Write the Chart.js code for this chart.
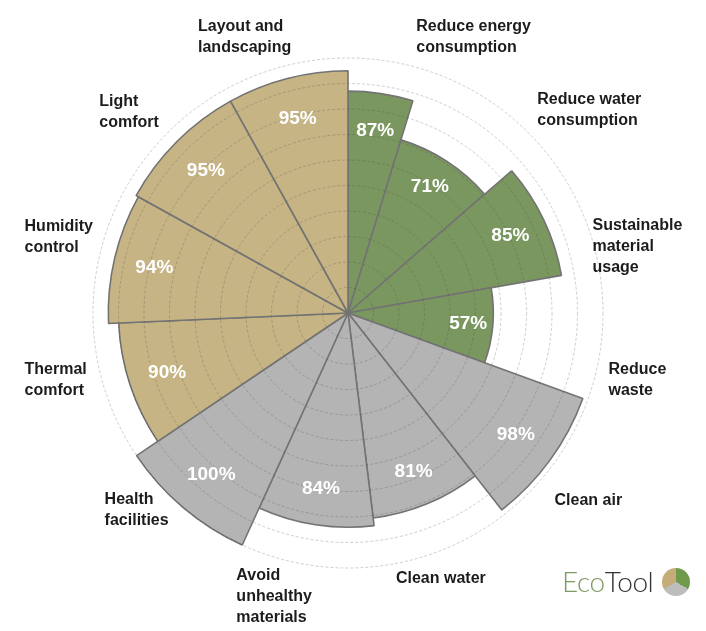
<!DOCTYPE html>
<html>
<head>
<meta charset="utf-8">
<script src="https://cdn.jsdelivr.net/npm/chart.js@4.4.1/dist/chart.umd.min.js"></script>
<style>
  html, body { margin: 0; padding: 0; background: #ffffff; }
  #wrap { position: relative; width: 706px; height: 631px; }
  #logo { position: absolute; left: 562px; top: 563px; height: 36px; display: flex; align-items: center;
          font-family: "Lato", "Liberation Sans", Arial, sans-serif; font-weight: 300; font-size: 28px; letter-spacing: -0.4px; }
  #logo .eco { color: #7d9a62; }
  #logo .tool { color: #333333; }
  #logo .icon { width: 28px; height: 28px; border-radius: 50%; margin-left: 9px; margin-top: 1px;
          background: conic-gradient(#6f9a4c 0deg 120deg, #bdbdbd 120deg 240deg, #c4ad78 240deg 360deg); }
</style>
</head>
<body>
<div id="wrap">
  <canvas id="c" width="706" height="631"></canvas>
  <div id="logo"><span class="eco">Eco</span><span class="tool">Tool</span><span class="icon"></span></div>
</div>
<script>
// ---- data ----
const categories = [
  ["Reduce energy", "consumption"],
  ["Reduce water", "consumption"],
  ["Sustainable", "material", "usage"],
  ["Reduce", "waste"],
  ["Clean air"],
  ["Clean water"],
  ["Avoid", "unhealthy", "materials"],
  ["Health", "facilities"],
  ["Thermal", "comfort"],
  ["Humidity", "control"],
  ["Light", "comfort"],
  ["Layout and", "landscaping"]
];
const values = [87, 71, 85, 57, 98, 81, 84, 100, 90, 94, 95, 95];
const groups = ["env", "env", "env", "env", "health", "health", "health", "health", "comfort", "comfort", "comfort", "comfort"];

// ---- style / layout ----
const groupColors = { env: "#7a975f", health: "#b4b4b4", comfort: "#c6b484" };
const sliceAngles = [17, 32, 31, 30, 32, 31, 31.5, 31.5, 31.5, 31.5, 32, 29]; // degrees
const labelAnchor = [ // [angle deg clockwise from top, distance px from centre]
  [24.5, 303], [50, 315], [77, 297], [103, 297], [128, 305], [160.7, 281],
  [194.6, 293], [227, 289], [257, 300], [284.7, 299], [312.5, 297], [339.5, 295]
];

const labelPlugin = {
  id: "labels",
  afterDraw(chart) {
    const ctx = chart.ctx;
    const meta = chart.getDatasetMeta(0);
    const scale = chart.scales.r;
    ctx.save();
    // values inside slices
    ctx.fillStyle = "#ffffff";
    ctx.font = "bold 19px 'Liberation Sans', Arial, Helvetica, sans-serif";
    ctx.textAlign = "center";
    ctx.textBaseline = "middle";
    meta.data.forEach((arc, i) => {
      const mid = (arc.startAngle + arc.endAngle) / 2;
      const r = arc.outerRadius * 0.83;
      ctx.fillText(values[i] + "%", arc.x + Math.cos(mid) * r, arc.y + Math.sin(mid) * r);
    });
    // category labels
    ctx.fillStyle = "#1c1c1c";
    ctx.font = "bold 16px 'Liberation Sans', Arial, Helvetica, sans-serif";
    ctx.textAlign = "left";
    ctx.textBaseline = "middle";
    const lh = 21;
    categories.forEach((lines, i) => {
      const a = (labelAnchor[i][0] - 90) * Math.PI / 180;
      const d = labelAnchor[i][1];
      const cx = scale.xCenter + Math.cos(a) * d;
      const cy = scale.yCenter + Math.sin(a) * d;
      const w = Math.max(...lines.map(l => ctx.measureText(l).width));
      const x0 = cx - w / 2;
      const y0 = cy - (lines.length - 1) * lh / 2;
      lines.forEach((l, k) => ctx.fillText(l, x0, y0 + k * lh));
    });
    ctx.restore();
  }
};

new Chart(document.getElementById("c"), {
  type: "polarArea",
  data: {
    labels: categories.map(l => l.join(" ")),
    datasets: [{
      data: values,
      angle: sliceAngles,
      backgroundColor: groups.map(g => groupColors[g]),
      borderColor: "#737373",
      borderWidth: 1.6
    }]
  },
  options: {
    responsive: false,
    animation: false,
    devicePixelRatio: 1,
    layout: { padding: { top: 58, bottom: 63, left: 93, right: 103 } },
    plugins: { legend: { display: false }, tooltip: { enabled: false } },
    scales: {
      r: {
        min: 0,
        max: 100,
        startAngle: 0,
        ticks: { display: false, stepSize: 10 },
        grid: { z: 1, color: "rgba(70,70,70,0.33)", lineWidth: 0.8 },
        border: { dash: [3, 2] },
        angleLines: { display: false },
        pointLabels: { display: false }
      }
    }
  },
  plugins: [labelPlugin]
});
</script>
</body>
</html>
